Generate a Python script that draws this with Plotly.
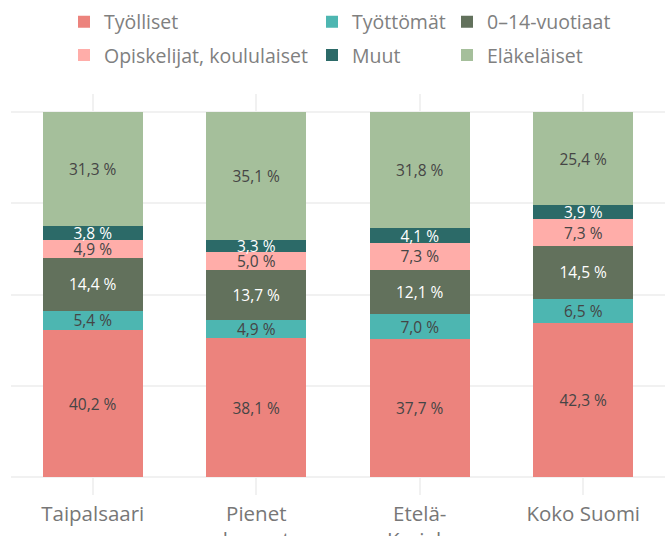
import plotly.graph_objects as go

categories = ["Taipalsaari", "Pienet<br>kunnat", "Etelä-<br>Karjala", "Koko Suomi"]
series_names = ["Työlliset", "Työttömät", "0–14-vuotiaat", "Opiskelijat, koululaiset", "Muut", "Eläkeläiset"]
tyolliset = [40.2, 38.1, 37.7, 42.3]
tyottomat = [5.4, 4.9, 7.0, 6.5]
lapset = [14.4, 13.7, 12.1, 14.5]
opiskelijat = [4.9, 5.0, 7.3, 7.3]
muut = [3.8, 3.3, 4.1, 3.9]
elakelaiset = [31.3, 35.1, 31.8, 25.4]

series_values = [tyolliset, tyottomat, lapset, opiskelijat, muut, elakelaiset]
colors = ["#EC837D", "#4DB6B1", "#62715C", "#FFADA9", "#2C6A68", "#A5BF9B"]
text_colors = ["#454545", "#454545", "#FFFFFF", "#454545", "#FFFFFF", "#454545"]
legend_ids = ["legend", "legend2", "legend3", "legend", "legend2", "legend3"]

FONT = "Open Sans"

def fmt(v):
    return f"{v:.1f} %".replace(".", ",")

fig = go.Figure()
for name, vals, col, tcol, lg in zip(series_names, series_values, colors, text_colors, legend_ids):
    fig.add_trace(go.Bar(
        x=categories, y=vals, name=name,
        marker=dict(color=col, line=dict(width=0)),
        text=[fmt(v) for v in vals],
        textposition="inside", insidetextanchor="middle", textangle=0,
        constraintext="none",
        textfont=dict(family=FONT, size=15.5, color=tcol),
        width=0.61, legend=lg, legendgroup=name,
        hoverinfo="skip",
    ))

W, H = 668, 536
ml, mr, mt, mb = 11, 3, 92, 41
pw, ph = W - ml - mr, H - mt - mb

def px_x(p):
    return (p - ml) / pw

def px_y(p):
    return 1 + (mt - p) / ph

legend_common = dict(
    orientation="v", xanchor="left", yanchor="top",
    traceorder="grouped", tracegroupgap=5,
    font=dict(family=FONT, size=19.5, color="#808080"),
    bgcolor="rgba(0,0,0,0)",
)

fig.update_layout(
    width=W, height=H,
    margin=dict(l=ml, r=mr, t=mt, b=mb, pad=0),
    paper_bgcolor="white", plot_bgcolor="white",
    barmode="stack",
    showlegend=True,
    uniformtext=dict(minsize=15.5, mode="show"),
    legend=dict(x=px_x(64), y=px_y(0), **legend_common),
    legend2=dict(x=px_x(312), y=px_y(0), **legend_common),
    legend3=dict(x=px_x(447), y=px_y(0), **legend_common),
    xaxis=dict(
        showgrid=True, gridcolor="#f1f1f1", gridwidth=2,
        showline=False, zeroline=False, ticks="",
        tickfont=dict(family=FONT, size=20.5, color="#777777"),
        ticklabelstandoff=4, automargin=False,
        range=[-0.5, 3.5],
    ),
    yaxis=dict(
        range=[-4.9, 104.9], dtick=25, tick0=0,
        showgrid=True, gridcolor="#f1f1f1", gridwidth=2,
        showticklabels=False, zeroline=False, showline=False, ticks="",
        automargin=False,
    ),
)

fig.write_html("out.html", config={"displayModeBar": False},
               post_script="document.body.style.margin='0';")
